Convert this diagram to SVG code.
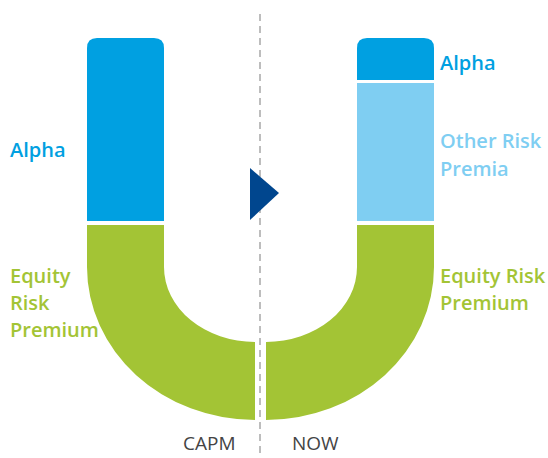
<svg xmlns="http://www.w3.org/2000/svg" width="548" height="458" viewBox="0 0 548 458">
<style>
.lbl{font-family:"Open Sans","Noto Sans",sans-serif;font-size:20px;font-weight:600}
.ax{font-family:"Open Sans","Noto Sans",sans-serif;font-size:19px;fill:#444}
.blue{fill:#00a0e1}.lblue{fill:#7fcef2}.green{fill:#a3c435}
</style>
<rect width="548" height="458" fill="#fff"/>
<g id="divider"><line x1="260" y1="14" x2="260" y2="458" stroke="#bdbdbd" stroke-width="2" stroke-dasharray="7,5"/></g>
<g id="capm-alpha"><path class="blue" d="M87,221 V48 Q87,38 97,38 H154 Q164,38 164,48 V221 Z"/><text class="lbl blue" x="10" y="157">Alpha</text></g>
<g id="capm-erp"><path class="green" d="M87,225 H164 V267 A91,75 0 0 0 255,342 V420 A168,153 0 0 1 87,267 Z"/>
<text class="lbl green"><tspan x="10" y="283">Equity</tspan><tspan x="10" y="310">Risk</tspan><tspan x="10" y="337">Premium</tspan></text></g>
<g id="now-alpha"><path class="blue" d="M357,80 V48 Q357,38 367,38 H424 Q434,38 434,48 V80 Z"/><text class="lbl blue" x="440" y="70">Alpha</text></g>
<g id="now-orp"><rect class="lblue" x="357" y="83" width="77" height="138"/><text class="lbl lblue"><tspan x="440" y="148">Other Risk</tspan><tspan x="440" y="176">Premia</tspan></text></g>
<g id="now-erp"><path class="green" d="M266,420 V342 A91,75 0 0 0 357,267 V225 H434 V267 A168,153 0 0 1 266,420 Z"/>
<text class="lbl green"><tspan x="440" y="283">Equity Risk</tspan><tspan x="440" y="310">Premium</tspan></text></g>
<g id="arrow"><path d="M250,168 L279,193 L250,220 Z" fill="#00468e"/></g>
<g id="labels"><text class="ax" x="183" y="450">CAPM</text><text class="ax" x="292" y="450">NOW</text></g>
</svg>
